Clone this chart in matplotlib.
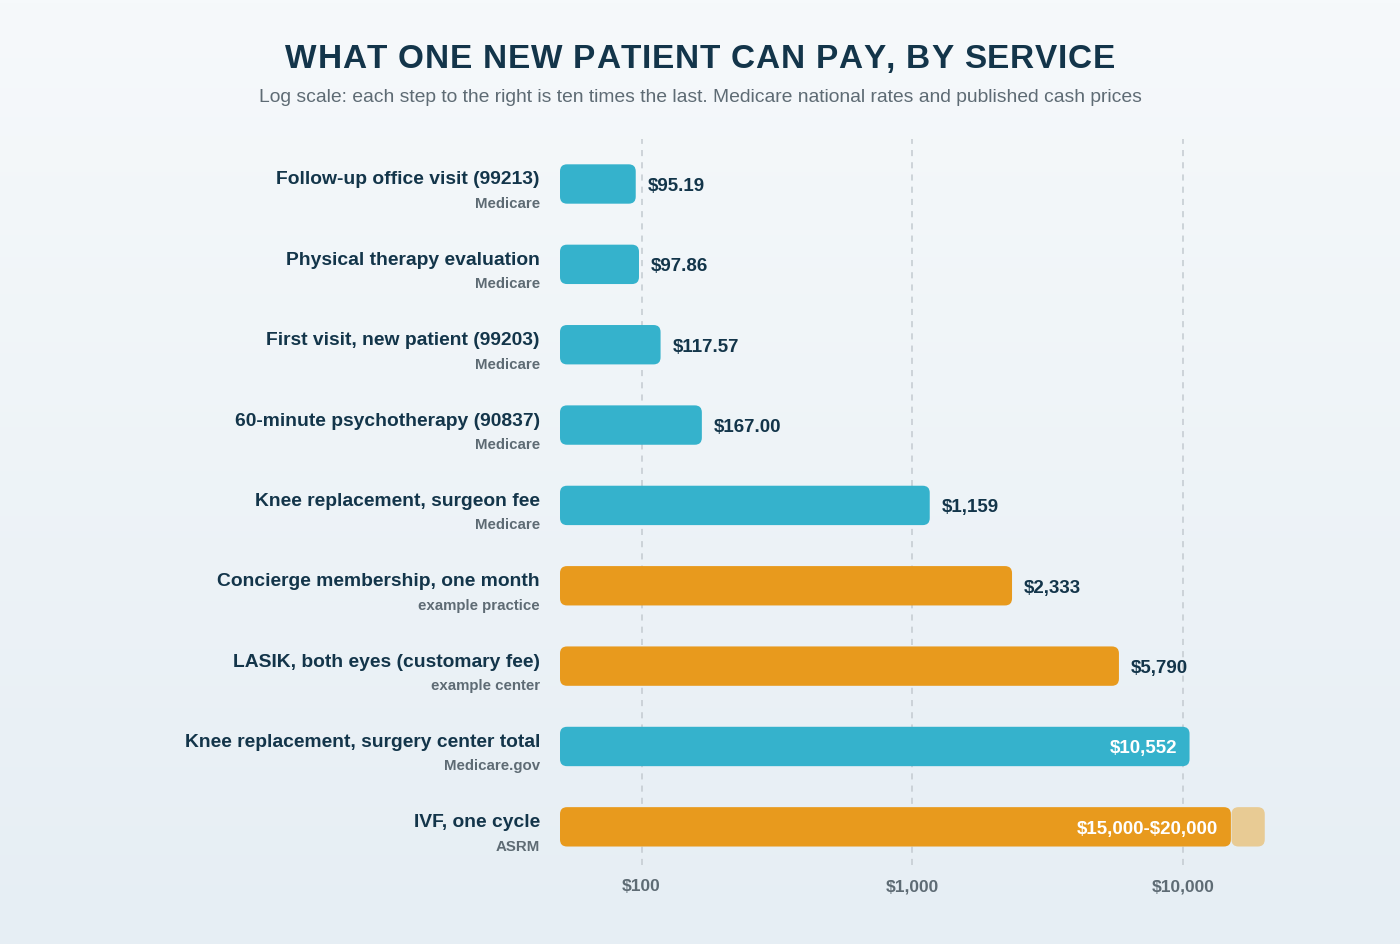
import numpy as np
import matplotlib
matplotlib.use("Agg")
import matplotlib.pyplot as plt
from matplotlib.patches import FancyBboxPatch
from matplotlib.transforms import IdentityTransform
from matplotlib.font_manager import findfont, FontProperties
from matplotlib.ft2font import FT2Font

plt.rcParams['font.family'] = ['Liberation Sans', 'DejaVu Sans']

# data, top row first
services = [
    "Follow-up office visit (99213)",
    "Physical therapy evaluation",
    "First visit, new patient (99203)",
    "60-minute psychotherapy (90837)",
    "Knee replacement, surgeon fee",
    "Concierge membership, one month",
    "LASIK, both eyes (customary fee)",
    "Knee replacement, surgery center total",
    "IVF, one cycle",
]
sources = ["Medicare", "Medicare", "Medicare", "Medicare", "Medicare",
           "example practice", "example center", "Medicare.gov", "ASRM"]
price_low = [95.19, 97.86, 117.57, 167.00, 1159, 2333, 5790, 10552, 15000]
price_high = [None, None, None, None, None, None, None, None, 20000]
kind = ["medicare", "medicare", "medicare", "medicare", "medicare",
        "cash", "cash", "medicare", "cash"]
value_labels = ["$95.19", "$97.86", "$117.57", "$167.00", "$1,159",
                "$2,333", "$5,790", "$10,552", "\\$15,000-\\$20,000"]
tick_vals = [100, 1000, 10000]
tick_labels = ["$100", "$1,000", "$10,000"]

TEAL = "#35b2cc"
ORANGE = "#e89a1d"
TAN = "#e8cb94"
NAVY = "#13354a"
GREY = "#5e6b74"

W, H = 1400, 945
DPI = 100
fig = plt.figure(figsize=(14, 9.45), dpi=DPI)

# background gradient
bg = fig.add_axes([0, 0, 1, 1], zorder=-10)
grad = np.linspace(0, 1, 256).reshape(-1, 1)
top = np.array([0xf6, 0xf9, 0xfb]) / 255
bot = np.array([0xe6, 0xee, 0xf4]) / 255
img = top + (bot - top) * grad[:, :, None]
bg.imshow(img, aspect='auto', extent=[0, 1, 0, 1])
bg.axis('off')

left_px, right_px = 560, 1291
top_px, bot_px = 140, 866
ax = fig.add_axes([left_px / W, 1 - bot_px / H, (right_px - left_px) / W,
                   (bot_px - top_px) / H])
ax.set_facecolor('none')
ax.set_xscale('log')
ax.set_xlim(50, 25000)
n = len(services)
ax.set_ylim(n - 1 + 0.475, -0.56)
for s in ax.spines.values():
    s.set_visible(False)
ax.set_yticks([])
ax.set_xticks(tick_vals)
ax.set_xticklabels(tick_labels)
ax.xaxis.set_minor_locator(matplotlib.ticker.NullLocator())
ax.tick_params(axis='x', length=0, pad=9.7, labelsize=12.5, labelcolor=GREY)
for t in ax.get_xticklabels():
    t.set_fontweight('bold')
for v in tick_vals:
    ax.axvline(v, color="#c3cad0", lw=1.1, ls=(0, (4, 4)), zorder=0)

fig.canvas.draw()


def rounded_bar(x0, x1, y, color, h=0.49, r=7):
    (px0, py0) = ax.transData.transform((x0, y + h / 2))
    (px1, py1) = ax.transData.transform((x1, y - h / 2))
    box = FancyBboxPatch((px0 + r, py0 + r), px1 - px0 - 2 * r, py1 - py0 - 2 * r,
                         boxstyle="round,pad=%d" % r, transform=IdentityTransform(),
                         facecolor=color, edgecolor='none', zorder=3,
                         clip_on=False)
    ax.add_artist(box)
    return px0, px1


for i in range(n):
    color = TEAL if kind[i] == "medicare" else ORANGE
    if price_high[i] is not None:
        rounded_bar(price_low[i] * 1.005, price_high[i], i, TAN)
    px0, px1 = rounded_bar(50, price_low[i], i, color)

    inside = (px1 - px0) > 560
    if inside:
        ax.annotate(value_labels[i], xy=(price_low[i], i), xytext=(-9, -1),
                    textcoords='offset points', ha='right', va='center',
                    fontsize=13.5, fontweight='bold', color='white', zorder=5)
    else:
        ax.annotate(value_labels[i], xy=(price_low[i], i), xytext=(8.6, -1),
                    textcoords='offset points', ha='left', va='center',
                    fontsize=13.5, fontweight='bold', color=NAVY, zorder=5)

    ax.annotate(services[i], xy=(0, i), xycoords=('axes fraction', 'data'),
                xytext=(-14.4, 0.4), textcoords='offset points',
                ha='right', va='baseline', fontsize=13.9, fontweight='bold',
                color=NAVY, annotation_clip=False)
    ax.annotate(sources[i], xy=(0, i), xycoords=('axes fraction', 'data'),
                xytext=(-14.4, -16.5), textcoords='offset points',
                ha='right', va='baseline', fontsize=10.8, fontweight='bold',
                color=GREY, annotation_clip=False)


def spaced_title(text, cx_px, baseline_px, size, spacing_px):
    # the title is letter-spaced, so place the characters one by one
    fp = FontProperties(family='Liberation Sans', weight='bold')
    font = FT2Font(findfont(fp))
    font.set_size(size, DPI)
    adv = []
    for ch in text:
        g = font.load_char(ord(ch))
        adv.append(g.linearHoriAdvance / 65536)
    total = sum(adv) + spacing_px * (len(text) - 1)
    x = cx_px - total / 2
    for ch, a in zip(text, adv):
        fig.text(x / W, 1 - baseline_px / H, ch, ha='left', va='baseline',
                 fontsize=size, fontweight='bold', color=NAVY)
        x += a + spacing_px


spaced_title("WHAT ONE NEW PATIENT CAN PAY, BY SERVICE", 700, 68, 24, 0.74)
fig.text(0.5, 1 - 97 / H,
         "Log scale: each step to the right is ten times the last. "
         "Medicare national rates and published cash prices",
         ha='center', va='center', fontsize=13.9, color=GREY)

fig.savefig("out.png", dpi=DPI)
